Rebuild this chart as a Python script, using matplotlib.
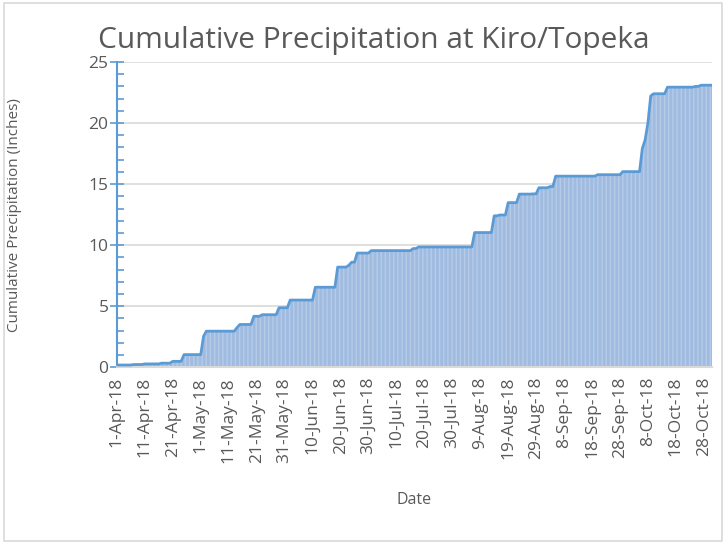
import matplotlib
matplotlib.use("Agg")
import matplotlib.pyplot as plt
import numpy as np
import pandas as pd
from matplotlib.patches import Rectangle
from matplotlib.ticker import MultipleLocator

plt.rcParams["font.family"] = ["Open Sans", "DejaVu Sans"]

# daily record from 1-Apr-18 to 31-Oct-18
start_date = "2018-04-01"
end_date = "2018-10-31"

# days with rain and their amounts (inches)
rain_dates = [
    "2018-04-01", "2018-04-07", "2018-04-11", "2018-04-17", "2018-04-21",
    "2018-04-25", "2018-05-02", "2018-05-03", "2018-05-14", "2018-05-15",
    "2018-05-20", "2018-05-23", "2018-05-29", "2018-06-02", "2018-06-11",
    "2018-06-19", "2018-06-23", "2018-06-24", "2018-06-26", "2018-07-01",
    "2018-07-16", "2018-07-18", "2018-08-07", "2018-08-14", "2018-08-16",
    "2018-08-19", "2018-08-23", "2018-08-28", "2018-08-30", "2018-09-03",
    "2018-09-05", "2018-09-20", "2018-09-29", "2018-10-06", "2018-10-07",
    "2018-10-08", "2018-10-09", "2018-10-10", "2018-10-15", "2018-10-25",
    "2018-10-27",
]
rain_inches = [
    0.18, 0.04, 0.05, 0.06, 0.15,
    0.55, 1.50, 0.42, 0.30, 0.25,
    0.67, 0.13, 0.57, 0.63, 1.05,
    1.65, 0.15, 0.25, 0.75, 0.20,
    0.17, 0.13, 1.18, 1.37, 0.07,
    1.01, 0.70, 0.02, 0.50, 0.10,
    0.85, 0.12, 0.25, 1.90, 0.70,
    1.40, 2.20, 0.18, 0.54, 0.06,
    0.10,
]

dates = pd.date_range(start_date, end_date, freq="D")
daily = pd.Series(0.0, index=dates)
daily.loc[pd.to_datetime(rain_dates)] = rain_inches
cumulative = daily.cumsum().to_numpy()
days = np.arange(len(dates))

tick_days = days[::10]
tick_labels = [f"{d.day}-{d.strftime('%b')}-{d.strftime('%y')}" for d in dates[::10]]

text_grey = "#595959"
line_blue = "#5B9BD5"
fill_blue = "#A0BBE0"
grid_grey = "#D9D9D9"

fig = plt.figure(figsize=(7.26, 5.44), dpi=100)
fig.patches.append(Rectangle((0.005, 0.005), 0.99, 0.99, transform=fig.transFigure,
                             fill=False, edgecolor=grid_grey, linewidth=1.2))
ax = fig.add_axes([0.161, 0.325, 0.820, 0.561])

ax.fill_between(days, cumulative, 0, facecolor=fill_blue, edgecolor="#B6CBE8",
                hatch="||||", linewidth=0, zorder=2)
ax.plot(days, cumulative, color=line_blue, linewidth=2, zorder=3)

ax.set_xlim(0, days[-1])
ax.set_ylim(0, 25)
ax.yaxis.set_major_locator(MultipleLocator(5))
ax.yaxis.set_minor_locator(MultipleLocator(1))
ax.grid(axis="y", color=grid_grey, linewidth=1.2, zorder=0)
ax.set_axisbelow(True)

ax.set_xticks(tick_days)
ax.set_xticklabels(tick_labels, rotation=90)
ax.tick_params(axis="x", length=0, pad=7, labelsize=12.5, labelcolor=text_grey)
ax.tick_params(axis="y", which="major", direction="inout", length=10, width=1.2,
               color=line_blue, labelsize=12.5, labelcolor=text_grey, pad=1)
ax.tick_params(axis="y", which="minor", direction="in", length=5, width=1.2,
               color=line_blue)

for side in ["top", "right"]:
    ax.spines[side].set_visible(False)
ax.spines["left"].set_color(line_blue)
ax.spines["left"].set_linewidth(1.5)
ax.spines["bottom"].set_color(grid_grey)
ax.spines["bottom"].set_linewidth(1.5)

ax.set_ylabel("Cumulative Precipitation (Inches)", fontsize=11, color=text_grey)
ax.yaxis.set_label_coords(-0.160, 0.5)
ax.set_xlabel("Date", fontsize=11.5, color=text_grey)
ax.xaxis.set_label_coords(0.5, -0.41)
fig.text(0.515, 0.925, "Cumulative Precipitation at Kiro/Topeka", ha="center",
         va="center", fontsize=21.5, color=text_grey)

fig.savefig("out.png", dpi=100)
